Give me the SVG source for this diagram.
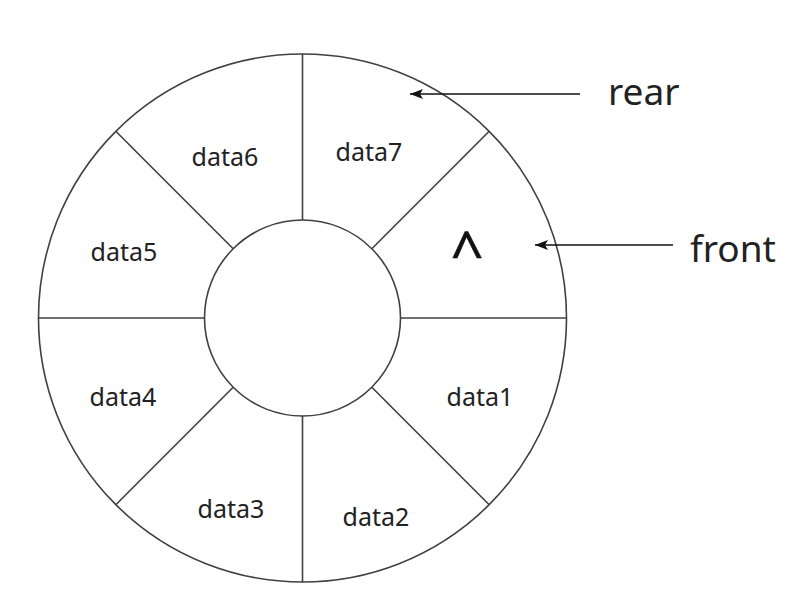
<svg xmlns="http://www.w3.org/2000/svg" width="790" height="605" viewBox="0 0 790 605">
<style>
.ring{fill:none;stroke:#404040;stroke-width:1.6}
.spoke{stroke:#404040;stroke-width:1.6}
.lbl{font-family:"Noto Sans","Open Sans",sans-serif;font-size:25px;fill:#222;text-anchor:middle}
.ptr{font-family:"Noto Sans","Open Sans",sans-serif;font-size:37px;fill:#222}
.arrow{stroke:#111;stroke-width:1.5;fill:none;marker-end:url(#ah)}
</style>
<defs>
<marker id="ah" markerWidth="14" markerHeight="10" refX="13" refY="5" orient="auto" markerUnits="userSpaceOnUse">
<path d="M0,0 L13,5 L0,10 L3,5 Z" fill="#111"/>
</marker>
</defs>
<rect width="790" height="605" fill="#fff"/>
<g id="ring">
<circle class="ring" cx="302.5" cy="318" r="264"/>
<circle class="ring" cx="302.5" cy="318" r="98"/>
<line class="spoke" x1="400.5" y1="318" x2="566.5" y2="318"/>
<line class="spoke" x1="371.8" y1="248.7" x2="489.2" y2="131.3"/>
<line class="spoke" x1="302.5" y1="220" x2="302.5" y2="54"/>
<line class="spoke" x1="233.2" y1="248.7" x2="115.8" y2="131.3"/>
<line class="spoke" x1="204.5" y1="318" x2="38.5" y2="318"/>
<line class="spoke" x1="233.2" y1="387.3" x2="115.8" y2="504.7"/>
<line class="spoke" x1="302.5" y1="416" x2="302.5" y2="582"/>
<line class="spoke" x1="371.8" y1="387.3" x2="489.2" y2="504.7"/>
</g>
<g id="cell0"><text x="467" y="274" style="font-family:'Noto Sans','Open Sans',sans-serif;font-size:58px;fill:#111;stroke:#111;stroke-width:0.5;text-anchor:middle">^</text></g>
<g id="cell1"><text class="lbl" x="480" y="406">data1</text></g>
<g id="cell2"><text class="lbl" x="376" y="526">data2</text></g>
<g id="cell3"><text class="lbl" x="231" y="518">data3</text></g>
<g id="cell4"><text class="lbl" x="123" y="406">data4</text></g>
<g id="cell5"><text class="lbl" x="124" y="261">data5</text></g>
<g id="cell6"><text class="lbl" x="225" y="166">data6</text></g>
<g id="cell7"><text class="lbl" x="369" y="161">data7</text></g>
<g id="connectors">
<line class="arrow" x1="580" y1="94" x2="410" y2="94"/>
<line class="arrow" x1="673" y1="245" x2="535" y2="245"/>
</g>
<g id="rear"><text class="ptr" x="608" y="105">rear</text></g>
<g id="front"><text class="ptr" x="690" y="262">front</text></g>
</svg>
